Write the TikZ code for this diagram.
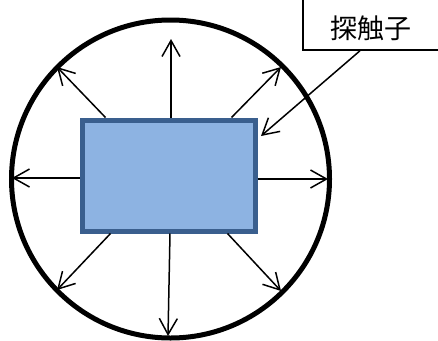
\documentclass[tikz,border=0pt]{standalone}
\usepackage{fontspec}
\newfontfamily\jpfont{Noto Sans CJK JP}
\usetikzlibrary{arrows.meta,calc}
\definecolor{rectfill}{HTML}{8DB3E2}
\definecolor{rectline}{HTML}{3A5F8E}
\tikzset{
  ray/.style={line width=1.5pt,-{Straight Barb[length=16pt,width=18pt,line width=1.5pt]}},
}
\begin{document}
\begin{tikzpicture}[x=1pt,y=-1pt]
\useasboundingbox (0,0) rectangle (438,340);
\clip (0,0) rectangle (438,340);
\fill[white] (0,0) rectangle (438,340);
% circle
\node[circle,draw,line width=5pt,minimum size=318pt,inner sep=0] (c) at (170.5,179) {};
% transducer
\node[draw=rectline,fill=rectfill,line width=5pt,minimum width=173pt,minimum height=111pt,inner sep=0] (r) at (168.5,175.5) {};
% tips
\coordinate (t1) at (57,67);
\coordinate (t2) at (171,39);
\coordinate (t3) at (281,67);
\coordinate (t4) at (12,178);
\coordinate (t5) at (328,179);
\coordinate (t6) at (57,290);
\coordinate (t7) at (168,336);
\coordinate (t8) at (281,291);
\draw[ray] ([xshift=26pt]r.north west) -- (t1);
\draw[ray] ([xshift=2.5pt]r.north) -- (t2);
\draw[ray] ([xshift=-26pt]r.north east) -- (t3);
\draw[ray] (r.west |- t4) -- (t4);
\draw[ray] (r.east |- t5) -- (t5);
\draw[ray] ([xshift=31pt]r.south west) -- (t6);
\draw[ray] ([xshift=1.5pt]r.south) -- (t7);
\draw[ray] ([xshift=-30pt]r.south east) -- (t8);
% label
\node[draw,line width=1.5pt,anchor=base west,inner sep=0,minimum width=136pt,text height=50pt,text depth=12pt,font=\jpfont\fontsize{27}{30}\selectfont] (lbl) at (302,38) {探触子};
\coordinate (p) at (261,136);
\draw[ray] (lbl.south west -| 360,0) -- (p);
\end{tikzpicture}
\end{document}
